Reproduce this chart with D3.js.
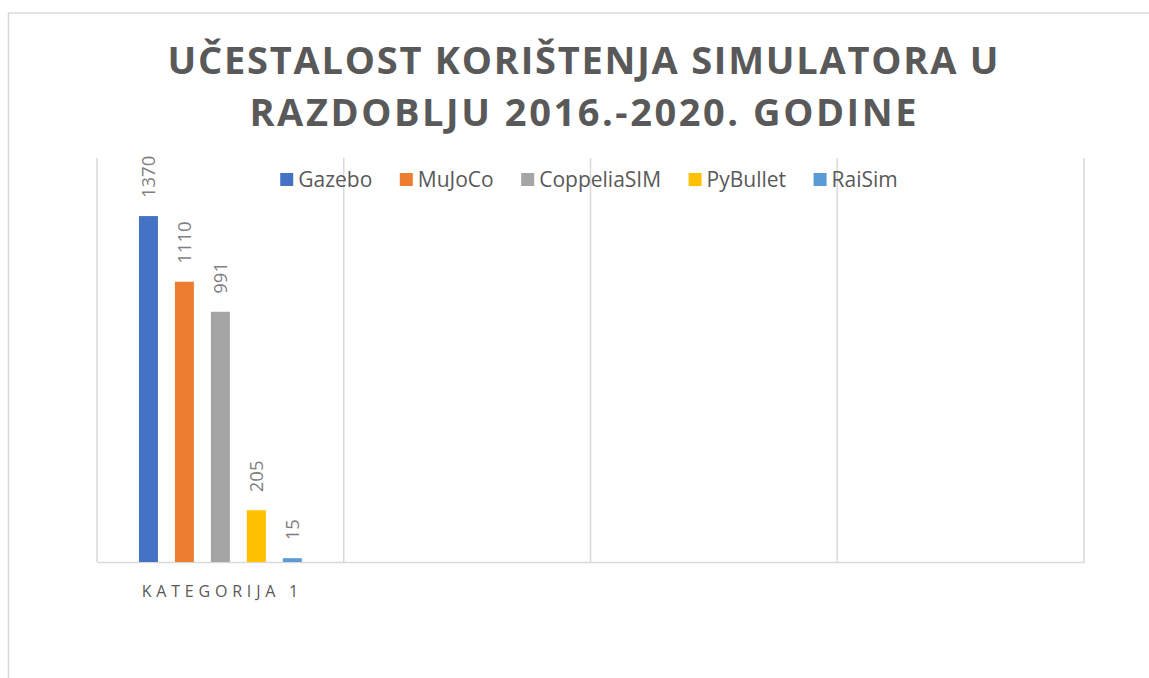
<!DOCTYPE html>
<html><head><meta charset="utf-8">
<script src="https://cdn.jsdelivr.net/npm/d3@7"></script>
<style>html,body{margin:0;padding:0;background:#fff;overflow:hidden}</style>
</head><body>
<svg id="c" width="1149" height="678"></svg>
<script>
const categories = ["Kategorija 1", "", "", ""];
const seriesNames = ["Gazebo", "MuJoCo", "CoppeliaSIM", "PyBullet", "RaiSim"];
const seriesValues = [1370, 1110, 991, 205, 15];
const seriesColors = ["#4472C4", "#ED7D31", "#A5A5A5", "#FFC000", "#5B9BD5"];
const titleLines = ["UČESTALOST KORIŠTENJA SIMULATORA U", "RAZDOBLJU 2016.-2020. GODINE"];
const yDomainMax = 1600;

const svg = d3.select("#c");
const m = {left: 97, right: 1084, top: 158, bottom: 562};

// chart border
svg.append("rect").attr("x", 8.5).attr("y", 13).attr("width", 1160).attr("height", 700)
  .attr("fill", "none").attr("stroke", "#d9d9d9").attr("stroke-width", 1.5);

// title
const titleG = svg.append("g").attr("font-family", "'Open Sans', sans-serif")
  .attr("font-weight", "bold").attr("font-size", 38).attr("fill", "#595959");
const titleTargets = [{w: 831, y: 74}, {w: 667, y: 126}];
const titleCenter = 583;
titleLines.forEach((t, i) => {
  const el = titleG.append("text").attr("x", titleCenter).attr("y", titleTargets[i].y)
    .attr("text-anchor", "middle").text(t);
  const len = el.node().getComputedTextLength();
  const ls = (titleTargets[i].w - len) / (t.length - 1);
  el.attr("letter-spacing", ls).attr("x", titleCenter + ls / 2);
});

const x0 = d3.scaleBand().domain(d3.range(categories.length)).range([m.left, m.right]).padding(0);
const bw = x0.bandwidth();
const x1 = d3.scaleBand().domain(seriesNames).range([bw * 0.17, bw * 0.83]).paddingInner(0.472).paddingOuter(0);
const y = d3.scaleLinear().domain([0, yDomainMax]).range([m.bottom, m.top]);

// vertical gridlines at category boundaries
const bounds = d3.range(categories.length + 1).map(i => i === categories.length ? m.right : x0(i));
svg.append("g").selectAll("line").data(bounds).join("line")
  .attr("x1", d => d).attr("x2", d => d).attr("y1", m.top).attr("y2", m.bottom)
  .attr("stroke", "#d9d9d9").attr("stroke-width", 1.5);

// x axis baseline
const xAxis = d3.axisBottom(x0).tickSize(0).tickFormat(i => categories[i].toUpperCase());
const xa = svg.append("g").attr("transform", `translate(0,${m.bottom})`).call(xAxis);
xa.select(".domain").attr("stroke", "#d9d9d9").attr("stroke-width", 1.5);
xa.selectAll("text").attr("font-family", "'Open Sans', sans-serif").attr("font-size", 16)
  .attr("fill", "#595959").attr("letter-spacing", 4.8).attr("dy", 0).attr("y", 35)
  .attr("dx", 2);

// bars
const barsG = svg.append("g").attr("transform", `translate(${x0(0)},0)`);
barsG.selectAll("rect").data(seriesNames).join("rect")
  .attr("x", d => x1(d)).attr("width", x1.bandwidth())
  .attr("y", (d, i) => y(seriesValues[i]))
  .attr("height", (d, i) => y(0) - y(seriesValues[i]))
  .attr("fill", (d, i) => seriesColors[i]);

// data labels
barsG.selectAll("text").data(seriesNames).join("text")
  .attr("transform", (d, i) => `translate(${x1(d) + x1.bandwidth() / 2 + 6.5},${y(seriesValues[i]) - 18}) rotate(-90)`)
  .attr("font-family", "'Open Sans', sans-serif").attr("font-size", 18.5).attr("fill", "#7f7f7f")
  .text((d, i) => seriesValues[i]);

// legend
const leg = svg.append("g").attr("font-family", "'Open Sans', sans-serif").attr("font-size", 21).attr("fill", "#595959");
const items = leg.selectAll("g").data(seriesNames).join("g");
items.append("rect").attr("width", 13).attr("height", 13).attr("y", 173).attr("fill", (d, i) => seriesColors[i]);
items.append("text").attr("x", 18).attr("y", 187).text(d => d);
const widths = [];
items.each(function () { widths.push(18 + d3.select(this).select("text").node().getComputedTextLength()); });
const gap = 27.5;
const total = d3.sum(widths) + gap * (widths.length - 1);
let cx = 589 - total / 2;
items.attr("transform", (d, i) => { const t = `translate(${cx},0)`; cx += widths[i] + gap; return t; });
</script>
</body></html>
